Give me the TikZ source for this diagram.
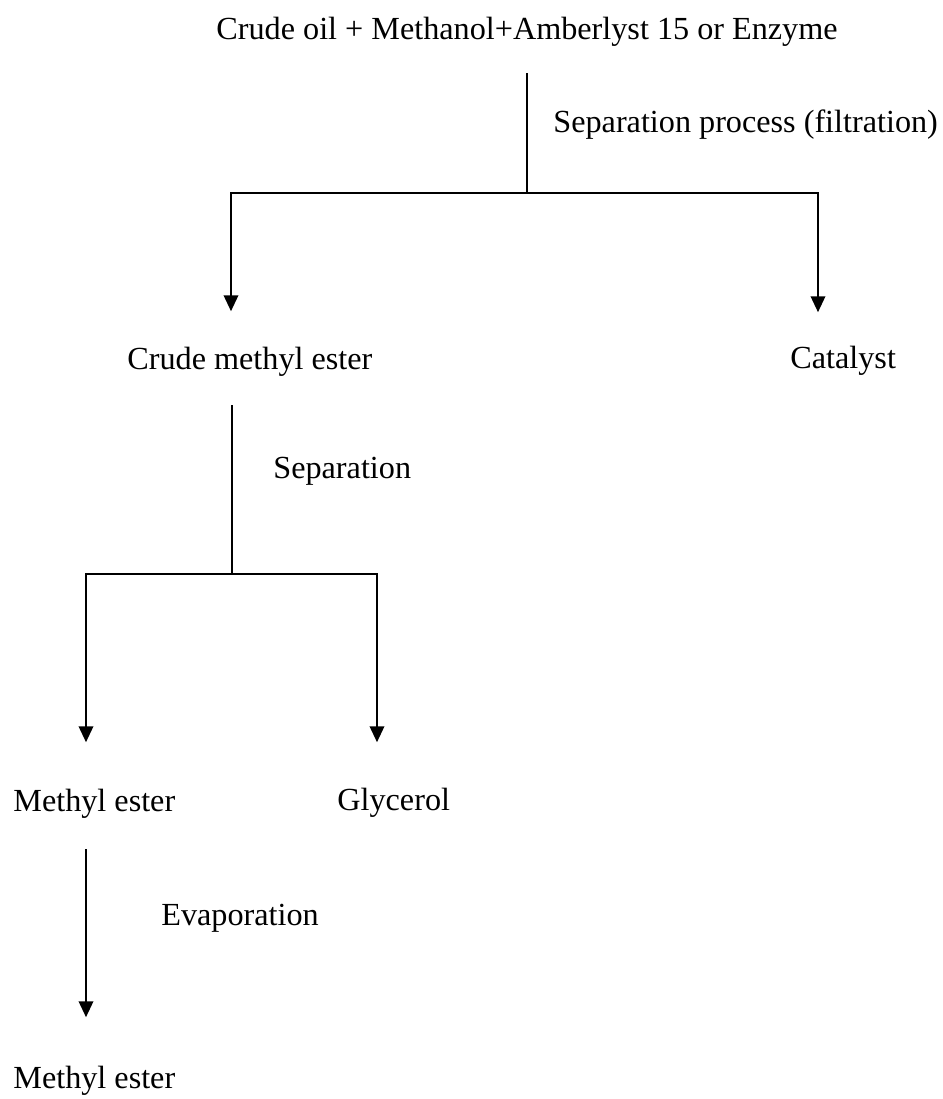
\documentclass[tikz,border=0pt]{standalone}
\usepackage{fontspec}
\setmainfont{Liberation Serif}
\usetikzlibrary{arrows.meta, positioning, calc}

\begin{document}
\begin{tikzpicture}[x=0.5pt, y=-0.5pt, >={Triangle[width=7.2pt,length=8pt]},
    txt/.style={anchor=base west, inner sep=0pt, font=\fontsize{16.1}{19}\selectfont},
    flow/.style={line width=1.2pt, black}]

  % --- Page Frame ---
  \useasboundingbox (0,0) rectangle (943,1099);

  % --- Define Dimensions ---
  \def\topX{527}
  \def\barA{193}
  \def\barB{574}

  % --- Stage Texts ---
  \node[txt, anchor=base] (feed) at (\topX, 39) {Crude oil + Methanol+Amberlyst 15 or Enzyme};
  \node[txt] (crude) at (127, 369) {Crude methyl ester};
  \node[txt] (catalyst) at (790, 368) {Catalyst};
  \node[txt] (ester) at (13, 811) {Methyl ester};
  \node[txt] (glycerol) at (337, 810) {Glycerol};
  \node[txt] (product) at (13, 1088) {Methyl ester};

  % --- Process Labels ---
  \node[txt] (sepA) at (553, 132) {Separation process (filtration)};
  \node[txt] (sepB) at (273, 478) {Separation};
  \node[txt] (evap) at (161, 925) {Evaporation};

  % --- Branch Points ---
  \coordinate (forkA) at (\topX, \barA);
  \coordinate (forkAL) at (231, \barA);
  \coordinate (forkAR) at (818, \barA);
  \coordinate (forkB) at (232, \barB);
  \coordinate (forkBL) at (86, \barB);
  \coordinate (forkBR) at (377, \barB);

  % --- Filtration Split ---
  \draw[flow, shorten <=13.5pt] (feed.south) -- (forkA);
  \draw[flow, <->, shorten <=17.5pt, shorten >=16.5pt]
    (forkAL |- crude.north) -- (forkAL) -- (forkAR) -- (forkAR |- catalyst.north);

  % --- Separation Split ---
  \draw[flow, shorten <=14.5pt] (forkB |- crude.south) -- (forkB);
  \draw[flow, <->, shorten <=23pt, shorten >=22.5pt]
    (forkBL |- ester.north) -- (forkBL) -- (forkBR) -- (forkBR |- glycerol.north);

  % --- Evaporation Step ---
  \draw[flow, ->, shorten <=15.5pt, shorten >=24pt] (forkBL |- ester.south) -- (forkBL |- product.north);

\end{tikzpicture}
\end{document}
